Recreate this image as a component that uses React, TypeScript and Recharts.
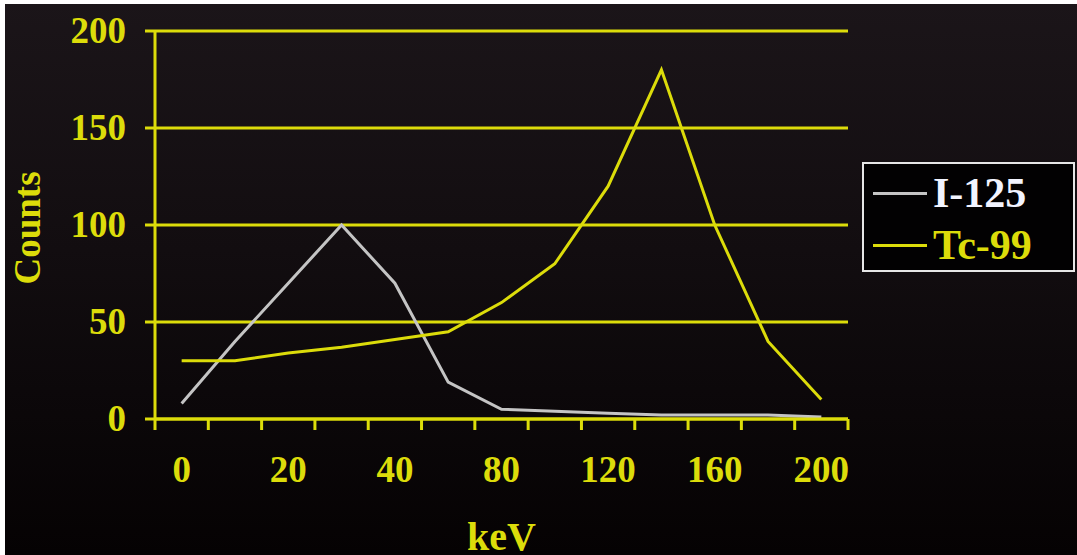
import React from 'react'
import { CartesianGrid, Legend, Line, LineChart, XAxis, YAxis } from 'recharts'

const categories = ['0', '10', '20', '30', '40', '60', '80', '100', '120', '140', '160', '180', '200']
const i125 = [8, 40, 70, 100, 70, 19, 5, 4, 3, 2, 2, 2, 1]
const tc99 = [30, 30, 34, 37, 41, 45, 60, 80, 120, 180, 100, 40, 10]
const yTicks = [0, 50, 100, 150, 200]

const data = categories.map((kev, i) => ({ kev, idx: i, i125: i125[i], tc99: tc99[i] }))
// tick marks sit on the category boundaries, not on the points
const boundaryTicks = [...categories.map((_, i) => i), categories.length]

const YELLOW = '#dcdc0a'
const GRAY = '#c4c4c4'
const FONT = '"Liberation Serif", "Times New Roman", serif'

const W = 1077
const H = 555
const margin = { top: 31, right: 229, left: 0, bottom: 0 }
const yAxisWidth = 155
const plotWidth = W - margin.right - yAxisWidth
const halfBand = plotWidth / categories.length / 2

const XTick = (props: any) => {
  const { x, y, payload } = props
  return (
    <text x={x} y={y + 43} textAnchor="middle" fill={YELLOW} fontFamily={FONT} fontWeight="bold" fontSize={37}>
      {payload.value}
    </text>
  )
}

const YTick = (props: any) => {
  const { x, y, payload } = props
  return (
    <text x={x} y={y + 12} textAnchor="end" fill={YELLOW} fontFamily={FONT} fontWeight="bold" fontSize={37}>
      {payload.value}
    </text>
  )
}

const NoLabel = () => <g />

const LegendBox = () => {
  const rows = [
    { name: 'I-125', line: GRAY, text: '#f2f4ff' },
    { name: 'Tc-99', line: YELLOW, text: YELLOW },
  ]
  return (
    <div
      style={{
        border: '2px solid #e6e6e6',
        background: '#020102',
        padding: '2px 0 0 9px',
        width: 213,
        boxSizing: 'border-box',
      }}
    >
      {rows.map((r, i) => (
        <div key={r.name} style={{ display: 'flex', alignItems: 'center', height: i === 0 ? 54 : 50 }}>
          <div style={{ width: 54, height: 3, background: r.line, marginRight: 6 }} />
          <span style={{ color: r.text, fontFamily: FONT, fontWeight: 'bold', fontSize: 42, lineHeight: '42px' }}>
            {r.name}
          </span>
        </div>
      ))}
    </div>
  )
}

export default function App() {
  return (
    <div
      style={{
        position: 'absolute',
        left: 0,
        top: 0,
        width: W,
        height: H,
        background: 'linear-gradient(180deg, #1b1519 0%, #120d10 45%, #050203 100%)',
        overflow: 'hidden',
      }}
    >
      <div style={{ position: 'absolute', left: 0, top: 0, width: W, height: 4, background: '#fff' }} />
      <div style={{ position: 'absolute', left: 0, top: 0, width: 5, height: H, background: '#fff' }} />
      <div style={{ position: 'absolute', left: 0, top: 0 }}>
        <LineChart width={W} height={H} data={data} margin={margin}>
          <CartesianGrid vertical={false} stroke={YELLOW} strokeWidth={3} />
          <XAxis
            xAxisId="a_bounds"
            dataKey="idx"
            type="number"
            domain={[0, categories.length]}
            ticks={boundaryTicks}
            allowDataOverflow
            height={20}
            tick={<NoLabel />}
            tickSize={11}
            axisLine={{ stroke: YELLOW, strokeWidth: 3 }}
            tickLine={{ stroke: YELLOW, strokeWidth: 3 }}
          />
          <XAxis
            xAxisId="b_cat"
            dataKey="kev"
            height={116}
            interval={1}
            padding={{ left: halfBand, right: halfBand }}
            axisLine={false}
            tickLine={false}
            tickSize={0}
            tickMargin={0}
            tick={<XTick />}
            label={(p: any) => {
              const vb = p.viewBox
              return (
                <text
                  x={vb.x + vb.width / 2}
                  y={vb.y + 111}
                  textAnchor="middle"
                  fill={YELLOW}
                  fontFamily={FONT}
                  fontWeight="bold"
                  fontSize={40}
                >
                  keV
                </text>
              )
            }}
          />
          <YAxis
            width={yAxisWidth}
            domain={[0, 200]}
            ticks={yTicks}
            tickSize={10}
            tickMargin={19}
            axisLine={{ stroke: YELLOW, strokeWidth: 3 }}
            tickLine={{ stroke: YELLOW, strokeWidth: 3 }}
            tick={<YTick />}
            label={(p: any) => {
              const vb = p.viewBox
              const cx = 27
              const cy = vb.y + vb.height / 2 + 3
              return (
                <text
                  x={cx}
                  y={cy}
                  transform={`rotate(-90 ${cx} ${cy})`}
                  textAnchor="middle"
                  dominantBaseline="central"
                  fill={YELLOW}
                  fontFamily={FONT}
                  fontWeight="bold"
                  fontSize={37}
                >
                  Counts
                </text>
              )
            }}
          />
          <Legend
            content={<LegendBox />}
            wrapperStyle={{ position: 'absolute', left: 862, top: 162, width: 213, height: 0, overflow: 'visible' }}
          />
          <Line
            xAxisId="b_cat"
            dataKey="i125"
            name="I-125"
            stroke={GRAY}
            strokeWidth={3}
            dot={false}
            isAnimationActive={false}
          />
          <Line
            xAxisId="b_cat"
            dataKey="tc99"
            name="Tc-99"
            stroke={YELLOW}
            strokeWidth={3}
            dot={false}
            isAnimationActive={false}
          />
        </LineChart>
      </div>
    </div>
  )
}
